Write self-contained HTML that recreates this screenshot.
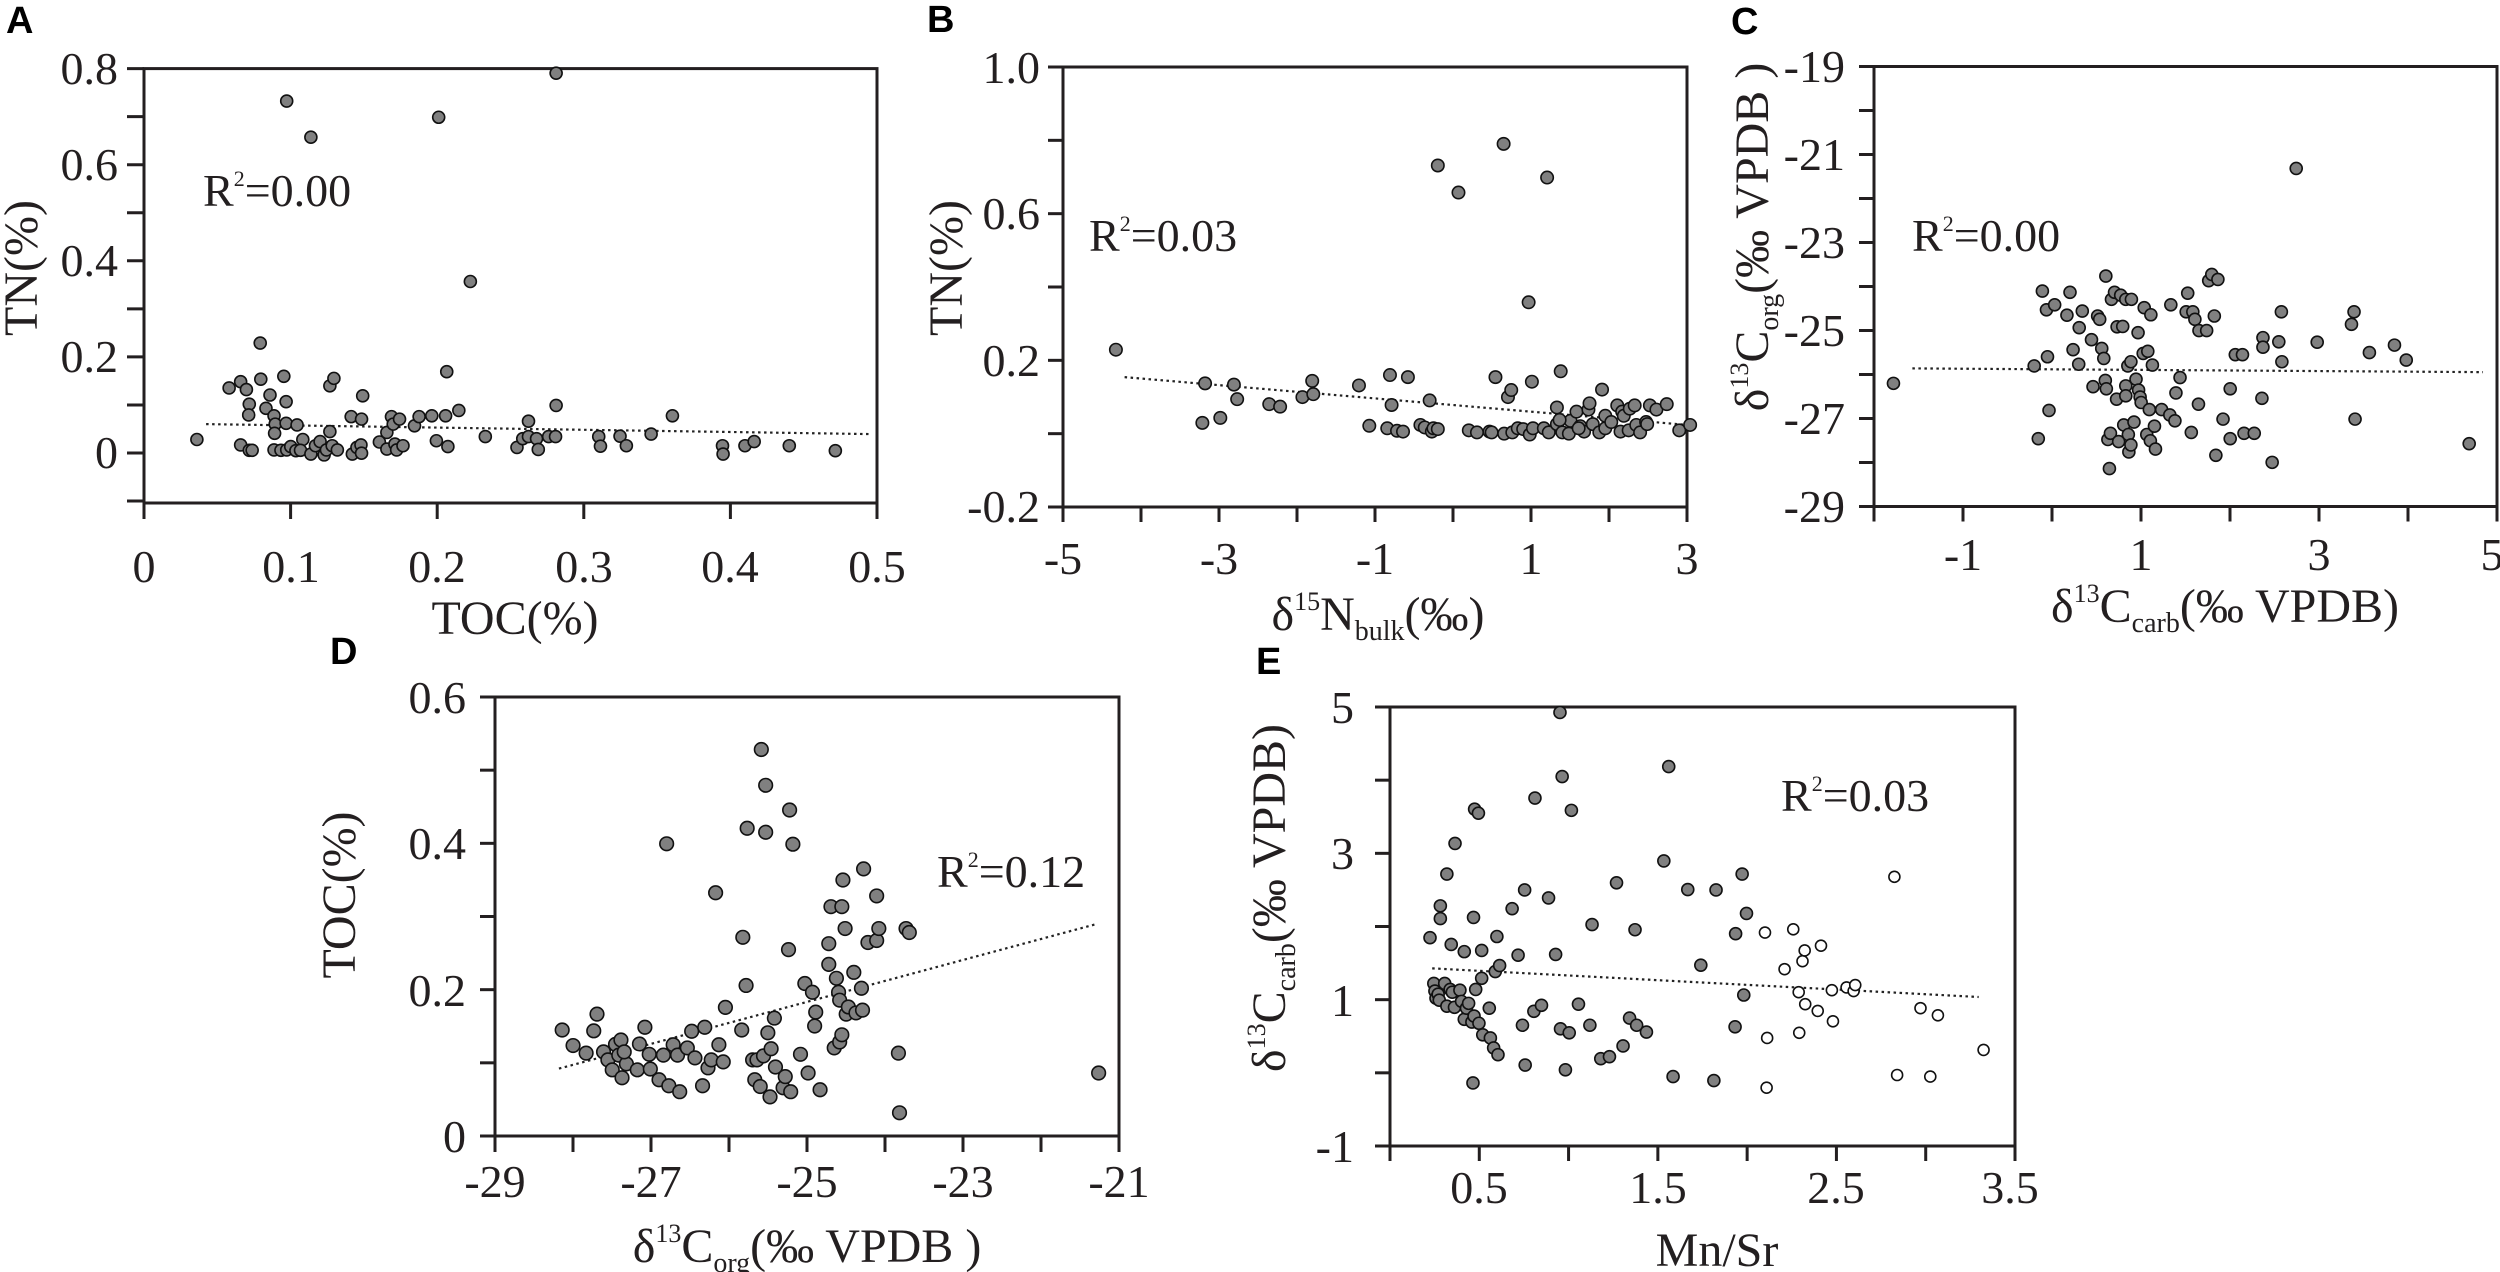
<!DOCTYPE html>
<html><head><meta charset="utf-8"><style>
html,body{margin:0;padding:0;background:#fff}
svg{display:block}
text{font-family:"Liberation Serif",serif;fill:#231f20}
.t{font-size:46px}
.ti{font-size:48px}
.r{font-size:46px}
.L{font-family:"Liberation Sans",sans-serif;font-weight:bold;font-size:38px;fill:#000}
</style></head><body>
<svg id="s" width="2500" height="1272" viewBox="0 0 2500 1272" xmlns="http://www.w3.org/2000/svg">
<g id="g"></g>
<text class="L" x="6" y="33">A</text>
<text class="L" x="927" y="32">B</text>
<text class="L" x="1731" y="34">C</text>
<text class="L" x="330" y="664">D</text>
<text class="L" x="1256" y="674">E</text>

<!-- A -->
<g class="t" text-anchor="end">
<text x="118" y="84">0.8</text><text x="118" y="180">0.6</text><text x="118" y="276">0.4</text><text x="118" y="372">0.2</text><text x="118" y="468">0</text>
</g>
<g class="t" text-anchor="middle">
<text x="144" y="582">0</text><text x="291" y="582">0.1</text><text x="437" y="582">0.2</text><text x="584" y="582">0.3</text><text x="730" y="582">0.4</text><text x="877" y="582">0.5</text>
</g>
<text class="ti" text-anchor="middle" x="515" y="634">TOC(%)</text>
<text class="ti" text-anchor="middle" transform="translate(37 268) rotate(-90)">TN(%)</text>
<text class="r" x="203" y="206">R<tspan font-size="22" dy="-20">2</tspan><tspan dy="20">=0.00</tspan></text>

<!-- B -->
<g class="t" text-anchor="end">
<text x="1040" y="83">1.0</text><text x="1040" y="229">0.6</text><text x="1040" y="376">0.2</text><text x="1040" y="522">-0.2</text>
</g>
<g class="t" text-anchor="middle">
<text x="1063" y="574">-5</text><text x="1219" y="574">-3</text><text x="1375" y="574">-1</text><text x="1531" y="574">1</text><text x="1687" y="574">3</text>
</g>
<text class="ti" text-anchor="middle" x="1378" y="630">δ<tspan font-size="26" dy="-20">15</tspan><tspan dy="20">N</tspan><tspan font-size="28" dy="10">bulk</tspan><tspan dy="-10">(‰)</tspan></text>
<text class="ti" text-anchor="middle" transform="translate(962 268) rotate(-90)">TN(%)</text>
<text class="r" x="1089" y="251">R<tspan font-size="22" dy="-20">2</tspan><tspan dy="20">=0.03</tspan></text>

<!-- C -->
<g class="t" text-anchor="end">
<text x="1845" y="82">-19</text><text x="1845" y="170">-21</text><text x="1845" y="258">-23</text><text x="1845" y="346">-25</text><text x="1845" y="434">-27</text><text x="1845" y="522">-29</text>
</g>
<g class="t" text-anchor="middle">
<text x="1963" y="570">-1</text><text x="2141" y="570">1</text><text x="2319" y="570">3</text><text x="2492" y="570">5</text>
</g>
<text class="ti" text-anchor="middle" x="2225" y="622">δ<tspan font-size="26" dy="-20">13</tspan><tspan dy="20">C</tspan><tspan font-size="28" dy="10">carb</tspan><tspan dy="-10">(‰ VPDB)</tspan></text>
<text class="ti" text-anchor="middle" transform="translate(1768 237) rotate(-90)">δ<tspan font-size="26" dy="-20">13</tspan><tspan dy="20">C</tspan><tspan font-size="28" dy="10">org</tspan><tspan dy="-10">(‰ VPDB )</tspan></text>
<text class="r" x="1912" y="251">R<tspan font-size="22" dy="-20">2</tspan><tspan dy="20">=0.00</tspan></text>

<!-- D -->
<g class="t" text-anchor="end">
<text x="466" y="713">0.6</text><text x="466" y="859">0.4</text><text x="466" y="1006">0.2</text><text x="466" y="1152">0</text>
</g>
<g class="t" text-anchor="middle">
<text x="495" y="1197">-29</text><text x="651" y="1197">-27</text><text x="807" y="1197">-25</text><text x="963" y="1197">-23</text><text x="1119" y="1197">-21</text>
</g>
<text class="ti" text-anchor="middle" x="807" y="1262">δ<tspan font-size="26" dy="-20">13</tspan><tspan dy="20">C</tspan><tspan font-size="28" dy="10">org</tspan><tspan dy="-10">(‰ VPDB )</tspan></text>
<text class="ti" text-anchor="middle" transform="translate(355 895) rotate(-90)">TOC(%)</text>
<text class="r" x="937" y="887">R<tspan font-size="22" dy="-20">2</tspan><tspan dy="20">=0.12</tspan></text>

<!-- E -->
<g class="t" text-anchor="end">
<text x="1354" y="723">5</text><text x="1354" y="869">3</text><text x="1354" y="1016">1</text><text x="1354" y="1162">-1</text>
</g>
<g class="t" text-anchor="middle">
<text x="1479" y="1203">0.5</text><text x="1658" y="1203">1.5</text><text x="1836" y="1203">2.5</text><text x="2010" y="1203">3.5</text>
</g>
<text class="ti" text-anchor="middle" x="1717" y="1266">Mn/Sr</text>
<text class="ti" text-anchor="middle" transform="translate(1285 898) rotate(-90)">δ<tspan font-size="26" dy="-20">13</tspan><tspan dy="20">C</tspan><tspan font-size="28" dy="10">carb</tspan><tspan dy="-10">(‰ VPDB)</tspan></text>
<text class="r" x="1781" y="811">R<tspan font-size="22" dy="-20">2</tspan><tspan dy="20">=0.03</tspan></text>
</svg>
<script>
var g=document.getElementById('g'),NS='http://www.w3.org/2000/svg';
function el(n,a){var e=document.createElementNS(NS,n);for(var k in a)e.setAttribute(k,a[k]);g.appendChild(e);return e;}
function line(x1,y1,x2,y2,w,d){var a={x1:x1,y1:y1,x2:x2,y2:y2,stroke:'#231f20','stroke-width':w||3};if(d){a['stroke-dasharray']=d;a.stroke='#222';}el('line',a);}
function frame(x,y,w,h){el('rect',{x:x,y:y,width:w,height:h,fill:'none',stroke:'#231f20','stroke-width':3});}
function yt(x,ys,len){ys.forEach(function(y){line(x-len,y,x,y);});}
function xt(y,xs,len){xs.forEach(function(x){line(x,y,x,y+len);});}
function rng(a,b,n){var r=[];for(var i=0;i<=n;i++)r.push(a+(b-a)*i/n);return r;}
function dots(pts,sx,sy,ox,oy,r,open){pts.forEach(function(p){el('circle',{cx:p[0]/sx+ox,cy:p[1]/sy+oy,r:r,fill:open?'#fff':'#808080',stroke:'#111','stroke-width':1.6});});}
function trend(p,sx,sy,ox,oy){line(p[0]/sx+ox,p[1]/sy+oy,p[2]/sx+ox,p[3]/sy+oy,2.2,'2.5 3.5');}

frame(144,68.6,733,434.4);yt(144,rng(68.6,453,8).concat([501]),17);xt(503,rng(144,877,5),16);
var A=[[342,1057],[398,933],[418,918],[418,1070],[428,937],[433,972],[432,998],[433,1083],[438,1083],[452,825],[453,912],[462,982],[469,950],[476,1000],[478,1020],[477,1042],[476,1082],[493,905],[497,966],[497,1018],[488,1083],[498,1082],[505,1074],[516,1022],[514,1084],[526,1057],[522,1083],[540,1092],[548,1072],[556,1062],[563,1094],[567,1082],[573,928],[580,910],[573,1038],[577,1072],[586,1082],[498,243],[540,330],[610,1002],[612,1092],[620,1076],[627,1070],[628,1008],[628,1090],[630,952],[659,1063],[672,1040],[672,1080],[680,1002],[683,1020],[686,1068],[689,1082],[694,1008],[700,1072],[720,1024],[728,1002],[750,1000],[762,282],[758,1060],[774,1000],[776,894],[778,1074],[797,987],[817,677],[843,1050],[898,1076],[908,1055],[918,1013],[918,1050],[932,1055],[935,1081],[953,1050],[966,975],[966,176],[965,1050],[1040,1050],[1043,1073],[1077,1049],[1088,1072],[1131,1044],[1168,1000],[1255,1072],[1256,1092],[1294,1072],[1310,1062],[1371,1072],[1451,1084]];
trend([358,1020,1512,1044],1.737,2.405,0,0);dots(A,1.737,2.405,0,0,6);

frame(1063,67,624,440);yt(1063,rng(67,507,6),15);xt(507,rng(1063,1687,8),15);
var B=[[489,841],[648,1017],[653,922],[681,1005],[706,925],[712,960],[771,972],[791,978],[832,955],[850,916],[852,948],[936,927],[955,1024],[988,1030],[993,902],[996,974],[1006,1036],[1017,1038],[1026,907],[1049,1022],[1057,1028],[1066,963],[1070,1038],[1073,1030],[1081,1032],[1081,398],[1119,463],[1138,1035],[1153,1040],[1176,1038],[1180,1040],[1187,907],[1202,346],[1203,1043],[1210,955],[1216,938],[1218,1040],[1228,1030],[1238,1032],[1248,727],[1250,1045],[1254,918],[1256,1030],[1276,1030],[1282,427],[1285,1040],[1300,1020],[1300,980],[1307,893],[1310,1040],[1322,1043],[1325,1012],[1336,990],[1343,1025],[1350,1038],[1358,985],[1360,970],[1366,1020],[1378,1040],[1383,937],[1389,1030],[1389,1000],[1411,975],[1417,1038],[1420,990],[1423,1000],[1432,1035],[1434,983],[1443,975],[1446,1022],[1453,1040],[1464,1015],[1466,1020],[1471,975],[1483,985],[1502,972],[1525,1035],[1545,1022],[1305,1010],[1340,1030],[1400,1015]];
trend([505,907,1540,1022],1.839,2.405,850,0);dots(B,1.839,2.405,850,0,6.2);

frame(1874,66.5,623,440);yt(1874,rng(66.5,506.5,10),15);xt(506.5,rng(1874,2497,7),15);
var C=[[378,922],[653,880],[661,1055],[669,700],[677,745],[679,858],[682,987],[693,733],[717,758],[723,703],[729,841],[740,876],[741,788],[747,748],[765,817],[768,930],[777,760],[781,768],[785,838],[789,862],[792,915],[793,664],[794,935],[797,1057],[800,1127],[802,1042],[804,720],[810,703],[814,960],[815,786],[818,1062],[822,710],[826,785],[828,1022],[832,720],[832,928],[832,952],[836,880],[837,1045],[838,1087],[842,870],[842,1070],[843,720],[848,1015],[852,912],[856,800],[857,938],[860,955],[862,968],[866,850],[868,740],[873,1045],[875,845],[878,985],[880,1060],[881,757],[884,878],[888,1025],[890,1080],[902,985],[918,998],[920,733],[928,1012],[930,945],[938,908],[950,750],[953,705],[960,1040],[963,750],[967,768],[974,972],[975,795],[990,795],[994,675],[1000,660],[1005,760],[1008,1095],[1012,672],[1022,1008],[1036,935],[1036,1055],[1046,853],[1060,853],[1063,1042],[1083,1042],[1098,958],[1100,812],[1100,835],[1118,1112],[1131,822],[1136,750],[1137,870],[1165,405],[1206,823],[1273,780],[1278,750],[1280,1008],[1308,848],[1357,830],[1380,866],[1503,1067]];
trend([415,886,1530,895],1.954,2.405,1700,0);dots(C,1.954,2.405,1700,0,6);

frame(495,697,624,439);yt(495,rng(697,1136,6),15);xt(1136,rng(495,1119,8),16);
var D=[[195,955],[205,994],[217,1013],[224,957],[227,915],[233,1010],[237,1030],[241,1055],[244,991],[247,1018],[250,1075],[249,980],[254,1040],[252,1010],[264,1055],[266,990],[271,948],[275,1016],[276,1053],[284,1080],[288,1018],[291,487],[293,1095],[297,992],[301,1018],[303,1110],[310,1000],[314,958],[317,1025],[324,1095],[326,948],[329,1050],[332,1030],[336,610],[339,992],[343,1035],[345,898],[360,955],[361,722],[364,843],[365,448],[370,1030],[372,1080],[374,1030],[377,1097],[378,250],[380,1020],[382,340],[382,458],[384,962],[386,1123],[387,1002],[390,925],[391,1048],[398,1100],[400,1072],[403,753],[404,402],[405,1110],[407,488],[414,1016],[418,838],[421,1063],[425,860],[427,945],[428,910],[432,1105],[440,738],[440,790],[442,645],[445,1000],[447,825],[449,860],[450,880],[450,985],[452,645],[452,967],[453,578],[455,700],[456,915],[458,897],[463,810],[465,912],[470,850],[471,905],[472,550],[476,735],[484,618],[484,730],[486,700],[504,1013],[505,1163],[511,700],[514,710],[688,1063]];
trend([192,1052,687,688],0.919,2.513,350,650);dots(D,0.919,2.513,350,650,6.8);

frame(1390,707,625,439);yt(1390,rng(707,1146,6),15);xt(1146,rng(1390,2015,7),15);
var E=[[423,723],[430,838],[432,857],[434,875],[438,865],[440,880],[442,643],[442,675],[450,838],[454,563],[454,895],[460,853],[462,740],[464,860],[468,898],[469,486],[478,855],[481,883],[486,758],[486,928],[490,900],[494,888],[500,935],[502,1088],[503,672],[504,920],[505,400],[507,853],[512,410],[513,938],[518,755],[518,825],[520,967],[532,900],[534,975],[540,1000],[543,808],[546,720],[548,1017],[551,793],[574,650],[585,767],[593,943],[597,603],[598,1043],[614,908],[616,372],[628,893],[641,623],[654,765],[662,157],[663,952],[666,318],[672,1055],[679,962],[683,403],[696,890],[717,943],[721,690],[737,1027],[753,1022],[766,585],[778,995],[790,925],[800,703],[803,943],[821,960],[853,530],[862,293],[870,1072],[897,602],[921,792],[945,1082],[949,603],[984,947],[985,713],[997,563],[1000,867],[1005,662]];
var EO=[[1039,710],[1042,1100],[1043,975],[1075,802],[1091,702],[1101,860],[1102,962],[1108,782],[1112,755],[1113,890],[1136,907],[1142,743],[1162,855],[1164,933],[1189,848],[1202,857],[1205,842],[1277,570],[1282,1068],[1325,900],[1343,1072],[1357,918],[1441,1005]];
trend([427,800,1432,872],1.839,2.513,1200,650);dots(E,1.839,2.513,1200,650,6);dots(EO,1.839,2.513,1200,650,5.5,true);
</script>
</body></html>
